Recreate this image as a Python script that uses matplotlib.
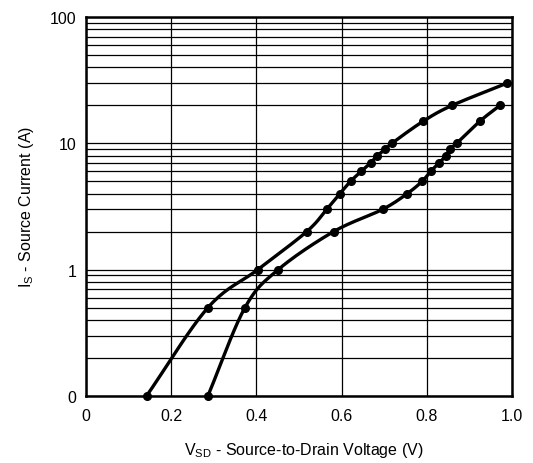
"""Source-drain diode forward voltage chart (I_S vs V_SD, log scale)."""
import numpy as np
import matplotlib.pyplot as plt
from matplotlib.ticker import FixedLocator, LogLocator, NullFormatter

plt.rcParams["font.family"] = ["Liberation Sans", "DejaVu Sans"]
plt.rcParams["mathtext.fontset"] = "custom"
plt.rcParams["mathtext.rm"] = "Liberation Sans"

# curve on the left (higher temperature)
vsd_a = [0.142, 0.286, 0.403, 0.518, 0.565, 0.596, 0.621, 0.646, 0.668,
         0.684, 0.703, 0.718, 0.792, 0.860, 0.989]
is_a = [0.1, 0.5, 1, 2, 3, 4, 5, 6, 7, 8, 9, 10, 15, 20, 30]

# curve on the right (lower temperature)
vsd_b = [0.286, 0.373, 0.451, 0.581, 0.696, 0.754, 0.789, 0.809, 0.829,
         0.845, 0.854, 0.870, 0.925, 0.972]
is_b = [0.1, 0.5, 1, 2, 3, 4, 5, 6, 7, 8, 9, 10, 15, 20]

x_ticks = [0, 0.2, 0.4, 0.6, 0.8, 1.0]
x_labels = ["0", "0.2", "0.4", "0.6", "0.8", "1.0"]
y_ticks = [0.1, 1, 10, 100]
y_labels = ["0", "1", "10", "100"]


def smooth(xs, ys, n=20):
    # Catmull-Rom through the points, done in log-y space
    p = np.column_stack([xs, np.log10(ys)])
    p = np.vstack([2 * p[0] - p[1], p, 2 * p[-1] - p[-2]])
    t = np.linspace(0, 1, n, endpoint=False)[:, None]
    out = []
    for i in range(1, len(p) - 2):
        p0, p1, p2, p3 = p[i - 1], p[i], p[i + 1], p[i + 2]
        seg = 0.5 * ((2 * p1) + (-p0 + p2) * t
                     + (2 * p0 - 5 * p1 + 4 * p2 - p3) * t ** 2
                     + (-p0 + 3 * p1 - 3 * p2 + p3) * t ** 3)
        out.append(seg)
    out.append(p[-2][None, :])
    out = np.vstack(out)
    return out[:, 0], 10 ** out[:, 1]


fig = plt.figure(figsize=(5.33, 4.64), dpi=100)
ax = fig.add_axes([0.1614, 0.1444, 0.7992, 0.8168])

ax.set_yscale("log")
ax.set_xlim(0, 1.0)
ax.set_ylim(0.1, 100)

for xs, ys in [(vsd_a, is_a), (vsd_b, is_b)]:
    sx, sy = smooth(xs, ys)
    ax.plot(sx, sy, color="black", lw=2.4, solid_capstyle="round", zorder=3)
    ax.plot(xs, ys, "o", color="black", ms=5.5, zorder=4, clip_on=False)

ax.xaxis.set_major_locator(FixedLocator(x_ticks))
ax.set_xticklabels(x_labels)
ax.yaxis.set_major_locator(FixedLocator(y_ticks))
ax.set_yticklabels(y_labels)
ax.yaxis.set_minor_locator(LogLocator(base=10, subs=np.arange(2, 10)))
ax.yaxis.set_minor_formatter(NullFormatter())

ax.grid(True, which="major", color="black", lw=0.9)
ax.grid(True, which="minor", axis="y", color="black", lw=0.9)
ax.tick_params(which="both", length=0, labelsize=11.5)
ax.tick_params(axis="y", pad=7)
ax.tick_params(axis="x", pad=9)
for s in ax.spines.values():
    s.set_linewidth(1.8)

fig.text(304 / 533, 1 - 451 / 464,
         r"V$_{\mathregular{SD}}$ - Source-to-Drain Voltage (V)",
         fontsize=11.5, ha="center", va="center")
fig.text(27 / 533, 1 - 207 / 464,
         r"I$_{\mathregular{S}}$ - Source Current (A)",
         fontsize=11.5, ha="center", va="center", rotation=90)

fig.savefig("out.png", dpi=100)
